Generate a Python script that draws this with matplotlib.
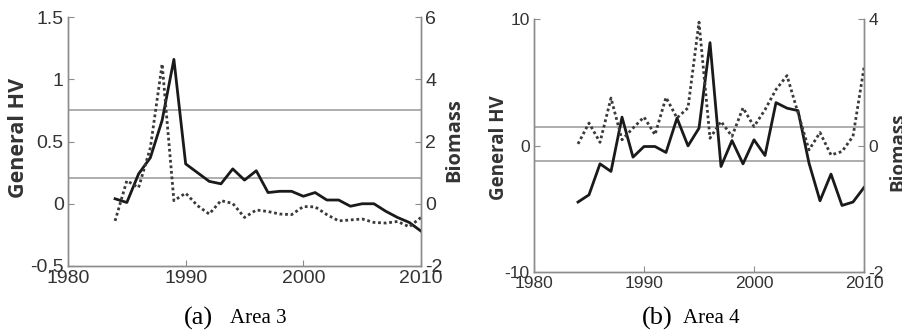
import matplotlib
matplotlib.use('Agg')
import matplotlib.pyplot as plt

# данные
years = list(range(1984, 2011))

# Area 3
hv_a = [0.04, 0.01, 0.24, 0.37, 0.67, 1.16, 0.32, 0.25, 0.18, 0.16, 0.28, 0.19, 0.265,
        0.09, 0.10, 0.10, 0.06, 0.09, 0.03, 0.03, -0.02, 0.0, 0.0, -0.06, -0.11, -0.15, -0.22]
bio_a = [-0.55, 0.74, 0.52, 1.8, 4.49, 0.1, 0.34, -0.06, -0.33, 0.1, 0.01, -0.44, -0.2,
         -0.25, -0.33, -0.35, -0.09, -0.1, -0.35, -0.55, -0.52, -0.49, -0.6, -0.62, -0.57, -0.74, -0.44]
hlines_a = [0.75, 0.21]

# Area 4
hv_b = [-4.47, -3.9, -1.45, -2.05, 2.24, -0.92, -0.08, -0.08, -0.55, 2.16, -0.03, 1.37, 8.13,
        -1.66, 0.39, -1.45, 0.45, -0.79, 3.39, 2.95, 2.76, -1.39, -4.37, -2.26, -4.74, -4.47, -3.32]
bio_b = [0.05, 0.71, 0.1, 1.5, 0.18, 0.55, 0.9, 0.34, 1.52, 0.87, 1.19, 3.9, 0.23,
         0.76, 0.29, 1.19, 0.6, 1.13, 1.77, 2.21, 1.03, -0.14, 0.41, -0.3, -0.19, 0.29, 2.46]
hlines_b = [1.5, -1.2]

plt.rcParams['axes.unicode_minus'] = False
plt.rcParams['font.family'] = ['Liberation Sans', 'DejaVu Sans']

SPINE = '#8c8c8c'
TXT = '#333333'
LINE = '#a0a0a0'


def setup(ax, ax2, fs):
    for a in (ax, ax2):
        a.spines['top'].set_visible(False)
        for s in ('left', 'right', 'bottom'):
            a.spines[s].set_color(SPINE)
            a.spines[s].set_linewidth(1.0)
        a.tick_params(direction='in', length=4, width=0.8, color=SPINE,
                      labelcolor=TXT, labelsize=fs, pad=3)
    ax.set_xlim(1980, 2010)
    ax.set_xticks([1980, 1990, 2000, 2010])


fig = plt.figure(figsize=(9.02, 3.33), dpi=100)

# ========== (a) Area 3 ==========
ax1 = fig.add_axes([68 / 902, 67 / 333, 353 / 902, 249 / 333])
ax1r = ax1.twinx()
setup(ax1, ax1r, 14)
for h in hlines_a:
    ax1.axhline(h, color=LINE, linewidth=1.2, zorder=1)
ax1.plot(years, hv_a, '-', color='#1a1a1a', linewidth=2, zorder=3)
ax1r.plot(years, bio_a, color='#3a3a3a', linewidth=2, linestyle=(0, (1, 1)))
ax1.set_ylim(-0.5, 1.5)
ax1.set_yticks([-0.5, 0, 0.5, 1, 1.5])
ax1.set_yticklabels(['-0.5', '0', '0.5', '1', '1.5'])
ax1r.set_ylim(-2, 6)
ax1r.set_yticks([-2, 0, 2, 4, 6])
ax1.set_ylabel('General HV', fontsize=15.5, fontweight='bold', family='Open Sans', color=TXT)
ax1.yaxis.set_label_coords(-0.11, 0.515)
ax1r.set_ylabel('Biomass', fontsize=14.5, fontweight='bold', family='Open Sans', color=TXT)
ax1r.yaxis.set_label_coords(1.066, 0.505)

# ========== (b) Area 4 ==========
ax2 = fig.add_axes([534 / 902, 61 / 333, 330 / 902, 253 / 333])
ax2r = ax2.twinx()
setup(ax2, ax2r, 12.5)
for h in hlines_b:
    ax2.axhline(h, color=LINE, linewidth=1.2, zorder=1)
ax2.plot(years, hv_b, '-', color='#1a1a1a', linewidth=2, zorder=3)
ax2r.plot(years, bio_b, color='#3a3a3a', linewidth=2, linestyle=(0, (1, 1)))
ax2.set_ylim(-10, 10)
ax2.set_yticks([-10, 0, 10])
ax2r.set_ylim(-4, 4)
ax2r.set_yticks([-4, 0, 4])
ax2r.set_yticklabels(['-2', '0', '4'])  # так подписано на исходной картинке
ax2.set_ylabel('General HV', fontsize=13.5, fontweight='bold', family='Open Sans', color=TXT)
ax2.yaxis.set_label_coords(-0.075, 0.49)
ax2r.set_ylabel('Biomass', fontsize=13.5, fontweight='bold', family='Open Sans', color=TXT)
ax2r.yaxis.set_label_coords(1.074, 0.474)

# подписи панелей
fig.text(213 / 902, 0.045, '(a)', fontsize=19, family='Liberation Serif', ha='right', va='center')
fig.text(230 / 902, 0.045, 'Area 3', fontsize=15, family='Liberation Serif', ha='left', va='center')
fig.text(673 / 902, 0.045, '(b)', fontsize=19, family='Liberation Serif', ha='right', va='center')
fig.text(683 / 902, 0.045, 'Area 4', fontsize=15, family='Liberation Serif', ha='left', va='center')

plt.savefig('out.png', dpi=100)
